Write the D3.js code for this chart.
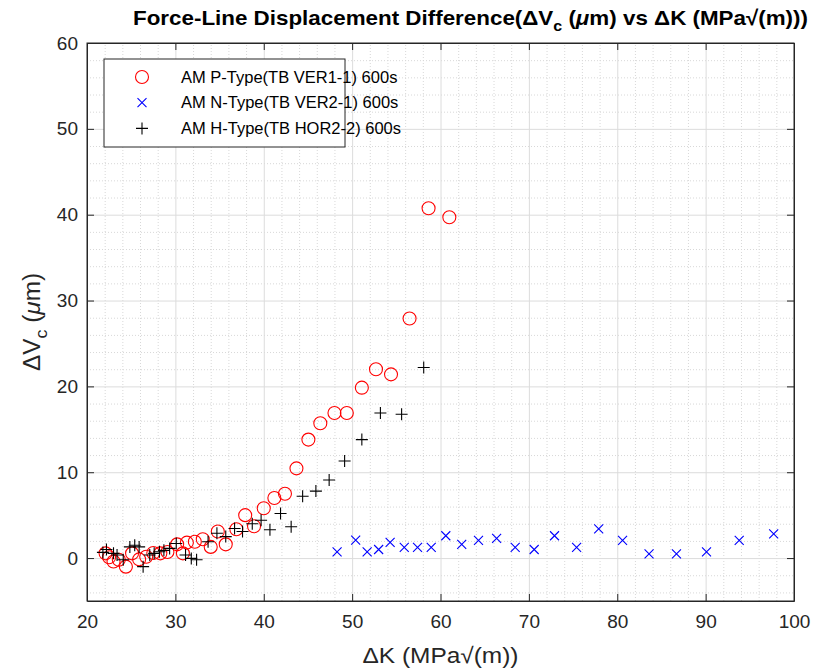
<!DOCTYPE html>
<meta charset="utf-8">
<style>
body { margin: 0; background: #fff; font-family: "Liberation Sans", Arial, sans-serif; }
.axis text { font-size: 19px; fill: #262626; font-family: "Liberation Sans", Arial, sans-serif; }
.axis path, .axis line { stroke: #262626; fill: none; }
.grid line { stroke: #dcdcdc; stroke-width: 1px; }
.minor line { stroke: #d8d8d8; stroke-width: 1px; stroke-dasharray: 1,2; }
.grid path, .minor path { display: none; }
</style>
<body></body>
<script src="https://d3js.org/d3.v7.min.js"></script>
<script>
// AM P-Type (TB VER1-1) 600s
var pX = [22.1, 22.5, 23.0, 23.6, 24.4, 25.1, 25.9, 26.7, 27.5, 28.3, 29.1, 30.2, 30.85, 31.3, 32.2, 33.1, 34.0, 34.8, 35.7, 36.9, 37.9, 38.9, 40.0, 41.2, 42.4, 43.7, 45.05, 46.4, 48.0, 49.4, 51.1, 52.7, 54.4, 56.5, 58.65, 61.0];
var pY = [0.55, 0.1, -0.4, -0.2, -1.0, 0.55, -0.15, 0.15, 0.6, 0.55, 0.7, 1.6, 0.55, 1.8, 1.9, 2.2, 1.3, 3.1, 1.6, 3.35, 5.0, 3.7, 5.8, 7.0, 7.5, 10.45, 13.8, 15.7, 16.9, 16.9, 19.85, 22.0, 21.4, 27.9, 40.75, 39.7];

// AM N-Type (TB VER2-1) 600s
var nX = [48.3, 50.4, 51.7, 53.0, 54.3, 55.9, 57.4, 58.95, 60.6, 62.4, 64.3, 66.35, 68.45, 70.6, 72.9, 75.4, 77.9, 80.6, 83.6, 86.7, 90.1, 93.8, 97.7];
var nY = [0.73, 2.1, 0.73, 1.0, 1.83, 1.25, 1.25, 1.25, 2.6, 1.6, 2.06, 2.3, 1.25, 1.0, 2.6, 1.25, 3.4, 2.06, 0.5, 0.5, 0.73, 2.06, 2.83];

// AM H-Type (TB HOR2-2) 600s
var hX = [21.8, 22.2, 23.0, 23.4, 24.1, 24.85, 25.4, 25.9, 26.35, 27.1, 27.6, 28.2, 28.7, 29.35, 30.1, 31.15, 31.8, 32.4, 33.7, 34.7, 35.7, 36.7, 37.6, 38.7, 39.7, 40.7, 41.9, 43.1, 44.4, 45.9, 47.4, 49.15, 51.1, 53.2, 55.6, 58.1];
var hY = [0.66, 1.0, 0.55, 0.35, -0.2, 1.3, 1.5, 1.3, -1.0, 0.35, 0.55, 0.73, 0.9, 1.13, 1.7, 0.35, -0.04, -0.2, 1.9, 2.9, 2.5, 3.45, 3.1, 4.0, 4.4, 3.3, 5.2, 3.65, 7.2, 7.8, 9.1, 11.3, 13.8, 16.9, 16.75, 22.2];

var legendLabels = ["AM P-Type(TB VER1-1) 600s", "AM N-Type(TB VER2-1) 600s", "AM H-Type(TB HOR2-2) 600s"];
var xTicks = [20, 30, 40, 50, 60, 70, 80, 90, 100];
var yTicks = [0, 10, 20, 30, 40, 50, 60];

var margin = { top: 43, right: 20, bottom: 69, left: 87 };
var width = 814 - margin.left - margin.right;
var height = 670 - margin.top - margin.bottom;

var svg = d3.select("body").append("svg")
    .attr("width", 814)
    .attr("height", 670);

var g = svg.append("g")
    .attr("transform", "translate(" + margin.left + "," + margin.top + ")");

var x = d3.scaleLinear().domain([20, 100]).range([0, width]);
var y = d3.scaleLinear().domain([-5, 60]).range([height, 0]);

var xMinor = d3.range(20, 101, 2).filter(function(d) { return d % 10 != 0; });
var yMinor = d3.range(-4, 61, 2).filter(function(d) { return d % 10 != 0; });

// minor grid
g.append("g").attr("class", "minor")
  .attr("transform", "translate(0," + height + ")")
  .call(d3.axisBottom(x).tickValues(xMinor).tickSize(-height).tickFormat(""));
g.append("g").attr("class", "minor")
  .call(d3.axisLeft(y).tickValues(yMinor).tickSize(-width).tickFormat(""));

// major grid
g.append("g").attr("class", "grid")
  .attr("transform", "translate(0," + height + ")")
  .call(d3.axisBottom(x).tickValues(xTicks).tickSize(-height).tickFormat(""));
g.append("g").attr("class", "grid")
  .call(d3.axisLeft(y).tickValues(yTicks).tickSize(-width).tickFormat(""));

// axes, ticks pointing inward
g.append("g").attr("class", "x axis")
  .attr("transform", "translate(0," + height + ")")
  .call(d3.axisBottom(x).tickValues(xTicks).tickSize(-7).tickPadding(14).tickSizeOuter(0));
g.append("g").attr("class", "y axis")
  .call(d3.axisLeft(y).tickValues(yTicks).tickSize(-7).tickPadding(9).tickSizeOuter(0));
g.append("g").attr("class", "axis")
  .call(d3.axisTop(x).tickValues(xTicks).tickSize(-7).tickFormat("").tickSizeOuter(0));
g.append("g").attr("class", "axis")
  .attr("transform", "translate(" + width + ",0)")
  .call(d3.axisRight(y).tickValues(yTicks).tickSize(-7).tickFormat("").tickSizeOuter(0));

g.append("rect")
  .attr("width", width).attr("height", height)
  .attr("fill", "none").attr("stroke", "#262626").attr("stroke-width", 1);

function circleMark(sel, col) {
  sel.append("circle").attr("r", 6.5)
    .attr("fill", "none").attr("stroke", col).attr("stroke-width", 1.1);
}
function plusMark(sel, col) {
  sel.append("path").attr("d", "M-6,0H6M0,-6V6")
    .attr("fill", "none").attr("stroke", col).attr("stroke-width", 1.1);
}
function crossMark(sel, col) {
  sel.append("path").attr("d", "M-4.5,-4.5L4.5,4.5M-4.5,4.5L4.5,-4.5")
    .attr("fill", "none").attr("stroke", col).attr("stroke-width", 1.1);
}

function drawSeries(xs, ys, mark, col) {
  var pts = xs.map(function(d, i) { return [d, ys[i]]; });
  g.append("g").selectAll("g")
    .data(pts)
    .enter().append("g")
    .attr("transform", function(d) { return "translate(" + x(d[0]) + "," + y(d[1]) + ")"; })
    .each(function() { mark(d3.select(this), col); });
}

drawSeries(pX, pY, circleMark, "#ff0000");
drawSeries(nX, nY, crossMark, "#0000ff");
drawSeries(hX, hY, plusMark, "#000000");

// legend
var legend = svg.append("g").attr("transform", "translate(104,59)");
legend.append("rect")
  .attr("width", 241).attr("height", 88)
  .attr("fill", "#fff").attr("stroke", "#262626").attr("stroke-width", 1);
var marks = [[circleMark, "#ff0000"], [crossMark, "#0000ff"], [plusMark, "#000000"]];
legendLabels.forEach(function(lbl, i) {
  var row = legend.append("g").attr("transform", "translate(0," + (18 + i * 25.7) + ")");
  var m = row.append("g").attr("transform", "translate(38,0)");
  marks[i][0](m, marks[i][1]);
  row.append("text")
    .attr("x", 77).attr("y", 0).attr("dy", "0.35em")
    .style("font-size", "16.5px").style("fill", "#000")
    .text(lbl);
});

// title
var title = svg.append("text")
  .attr("x", 133).attr("y", 25)
  .attr("textLength", 675).attr("lengthAdjust", "spacingAndGlyphs")
  .style("font-size", "21px").style("font-weight", "bold").style("fill", "#000");
title.append("tspan").text("Force-Line Displacement Difference(\u0394V");
title.append("tspan").attr("dy", 6).style("font-size", "15px").text("c");
title.append("tspan").attr("dy", -6).text(" (");
title.append("tspan").style("font-style", "italic").text("\u03bc");
title.append("tspan").text("m) vs \u0394K (MPa\u221a(m)))");

// x label
svg.append("text")
  .attr("x", margin.left + width / 2).attr("y", 663)
  .attr("text-anchor", "middle")
  .attr("textLength", 156).attr("lengthAdjust", "spacingAndGlyphs")
  .style("font-size", "22px").style("fill", "#262626")
  .text("\u0394K (MPa\u221a(m))");

// y label
var ylab = svg.append("text")
  .attr("transform", "translate(40," + (margin.top + height / 2) + ") rotate(-90)")
  .attr("text-anchor", "middle")
  .attr("textLength", 98).attr("lengthAdjust", "spacingAndGlyphs")
  .style("font-size", "23px").style("fill", "#262626");
ylab.append("tspan").text("\u0394V");
ylab.append("tspan").attr("dy", 7).style("font-size", "17px").text("c");
ylab.append("tspan").attr("dy", -7).text(" (");
ylab.append("tspan").style("font-style", "italic").text("\u03bc");
ylab.append("tspan").text("m)");
</script>
